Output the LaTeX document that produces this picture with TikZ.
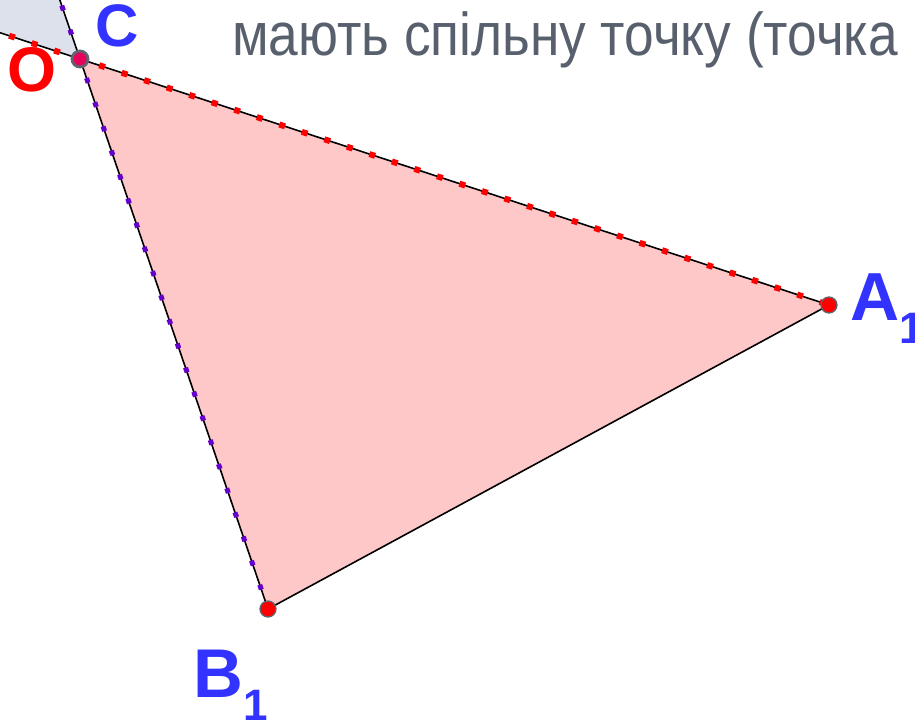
\documentclass[tikz,border=0pt]{standalone}
\usepackage{fontspec}
\setmainfont{Liberation Sans}
\definecolor{bluegray}{RGB}{221,225,236}
\definecolor{pinkfill}{RGB}{255,200,200}
\definecolor{dotred}{RGB}{255,0,0}
\definecolor{dotpurple}{RGB}{102,0,204}
\definecolor{ptborder}{RGB}{96,100,112}
\definecolor{cfill}{RGB}{232,0,90}
\definecolor{lblblue}{RGB}{51,51,255}
\definecolor{lblred}{RGB}{255,0,0}
\definecolor{textgray}{RGB}{88,96,110}
\tikzset{
  edgeline/.style={black, line width=1.6pt},
  reddots/.style={dotred, line width=6pt, dash pattern=on 6pt off 17.7pt, dash phase=14.1pt},
  purpledots/.style={dotpurple, line width=5pt, dash pattern=on 5pt off 20.5pt, dash phase=19.5pt},
  bigpt/.style={circle, fill=cfill, draw=ptborder, line width=2.8pt, minimum size=16pt, inner sep=0pt},
  redpt/.style={circle, fill=red, draw=ptborder, line width=1.3pt, minimum size=16pt, inner sep=0pt},
  lbl/.style={anchor=base west, inner sep=0pt, font=\bfseries},
}
\begin{document}
\begin{tikzpicture}[x=1pt,y=-1pt]
\useasboundingbox (0,0) rectangle (915,721);
\clip (0,0) rectangle (915,721);
\coordinate (C) at (80,59);
\coordinate (A1) at (829,305);
\coordinate (B1) at (268,609);
\coordinate (L) at (0,32.72);
\coordinate (T) at (59.83,0);
\fill[bluegray] (0,0) -- (T) -- (C) -- (L) -- cycle;
\fill[pinkfill] (C) -- (A1) -- (B1) -- cycle;
\draw[edgeline] (L) -- (A1) -- (B1) -- (T);
\draw[reddots] (L) -- (A1);
\draw[purpledots] (T) -- (B1);
\node[bigpt] (pC) at (C) {};
\node[redpt] (pA) at (A1) {};
\node[redpt] (pB) at (B1) {};
\node[lbl, text=lblblue] (lC) at (95,46) {\fontsize{60}{60}\selectfont C};
\node[lbl, text=lblred] (lO) at (7,91) {\fontsize{63}{63}\selectfont O};
\node[lbl, text=lblblue] (lA) at (850,320) {\fontsize{68}{68}\selectfont A\raisebox{-23pt}{\fontsize{44}{44}\selectfont 1}};
\node[lbl, text=lblblue] (lB) at (193,697) {\fontsize{69}{69}\selectfont B\raisebox{-23pt}{\fontsize{44}{44}\selectfont 1}};
\node[anchor=base west, inner sep=0pt, text=textgray] (txt) at (232,55) {\scalebox{0.88}[1]{\fontsize{60.5}{60}\selectfont мають спільну точку (точка}};
\end{tikzpicture}
\end{document}
